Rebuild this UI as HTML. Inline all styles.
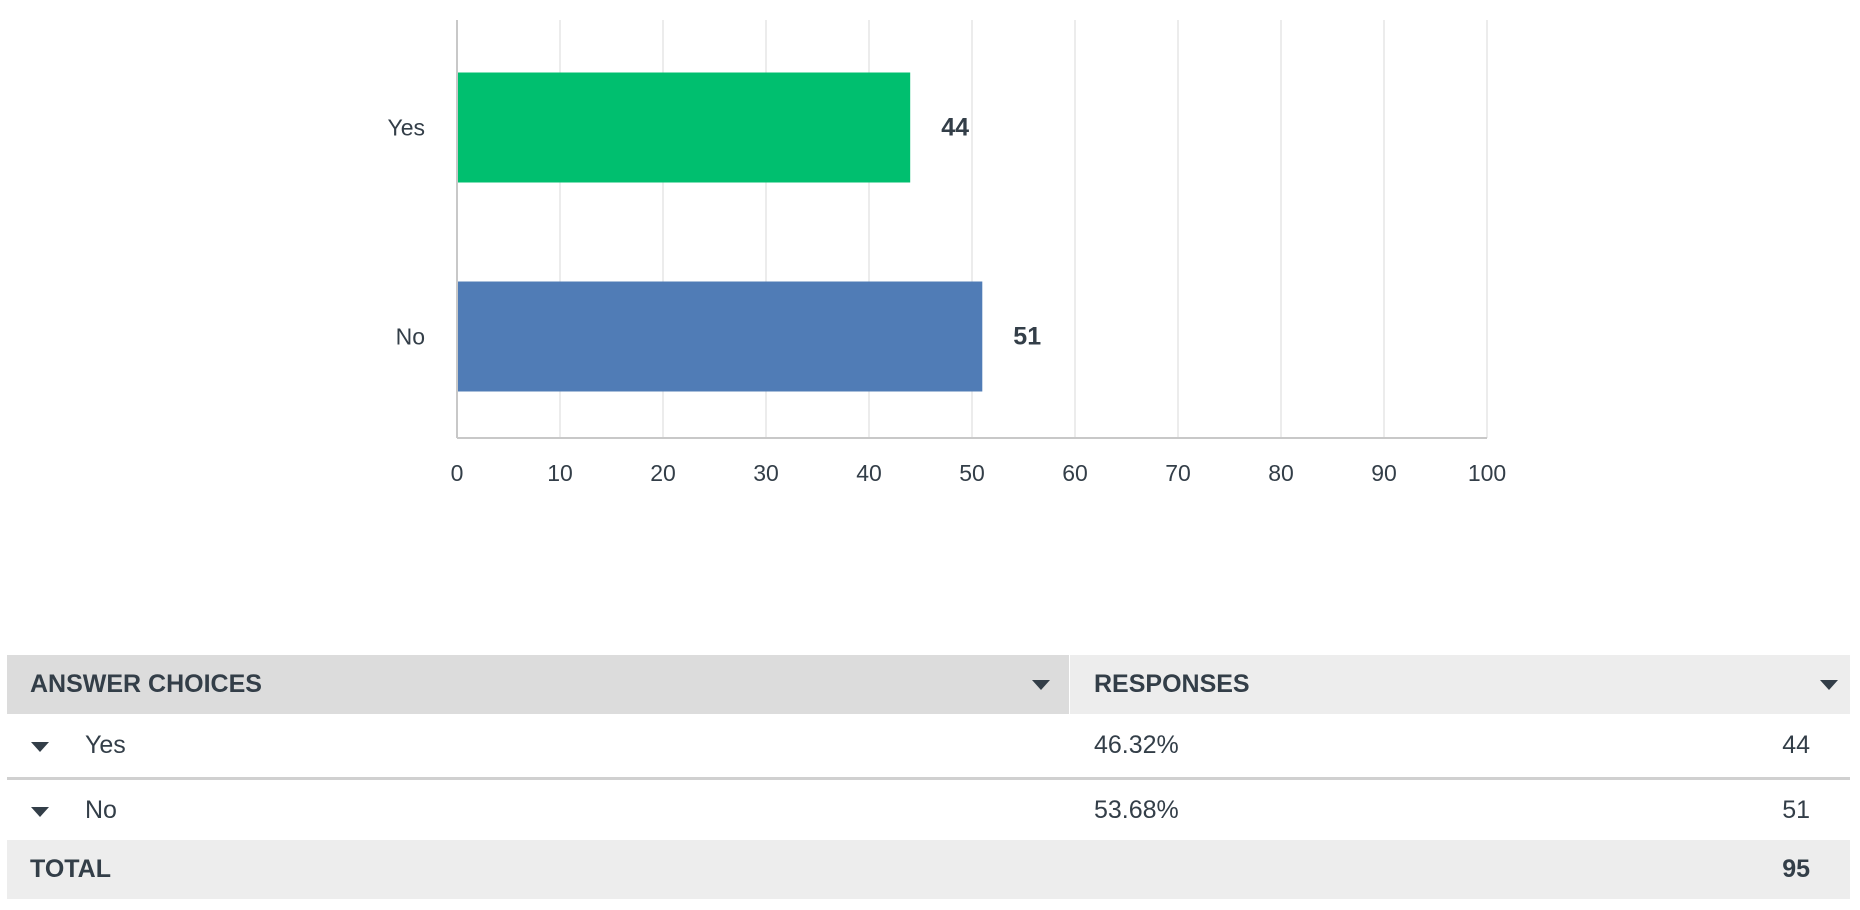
<!DOCTYPE html>
<html><head><meta charset="utf-8"><style>
body{margin:0;width:1860px;height:910px;background:#fff;font-family:"Liberation Sans",sans-serif;color:#333e48;position:relative;overflow:hidden}
.tbl{position:absolute;left:7px;width:1843px}
.cell{position:absolute;display:flex;align-items:center;box-sizing:border-box}
.tri{width:0;height:0;border-left:9px solid transparent;border-right:9px solid transparent;border-top:10px solid #333e48;position:absolute}
</style></head><body>
<svg id="chart" width="1860" height="520" style="position:absolute;left:0;top:0"></svg>

<div>
  <div class="cell" style="left:7px;top:655px;width:1062px;height:59px;background:#dcdcdc;font-weight:bold;font-size:25px;padding-left:23px">ANSWER CHOICES<span class="tri" style="left:1025px;top:25px"></span></div>
  <div class="cell" style="left:1070px;top:655px;width:780px;height:59px;background:#ededed;font-weight:bold;font-size:25px;padding-left:24px">RESPONSES<span class="tri" style="left:750px;top:25px"></span></div>

  <div class="cell" style="left:7px;top:714px;width:1062px;height:63px;font-size:25px;padding-left:78px"><span class="tri" style="left:24px;top:28px"></span>Yes</div>
  <div class="cell" style="left:1070px;top:714px;width:500px;height:63px;font-size:25px;padding-left:24px">46.32%</div>
  <div class="cell" style="left:1500px;top:714px;width:310px;height:63px;font-size:25px;justify-content:flex-end">44</div>
  <div style="position:absolute;left:7px;top:777px;width:1843px;height:3px;background:#d0d0d0"></div>

  <div class="cell" style="left:7px;top:780px;width:1062px;height:60px;font-size:25px;padding-left:78px"><span class="tri" style="left:24px;top:27px"></span>No</div>
  <div class="cell" style="left:1070px;top:780px;width:500px;height:60px;font-size:25px;padding-left:24px">53.68%</div>
  <div class="cell" style="left:1500px;top:780px;width:310px;height:60px;font-size:25px;justify-content:flex-end">51</div>

  <div class="cell" style="left:7px;top:840px;width:1843px;height:59px;background:#ededed;font-weight:bold;font-size:25px;padding-left:23px">TOTAL</div>
  <div class="cell" style="left:1500px;top:840px;width:310px;height:59px;font-weight:bold;font-size:25px;justify-content:flex-end">95</div>
</div>

<script>
const categories = ["Yes", "No"];
const values = [44, 51];
const colors = ["#00bf6f", "#507cb6"];
const ticks = [0,10,20,30,40,50,60,70,80,90,100];

const NS = "http://www.w3.org/2000/svg";
const svg = document.getElementById("chart");
const x0 = 457, x1 = 1487, xmax = 100;
const yTop = 20, yBase = 438;
const xs = v => x0 + (v / xmax) * (x1 - x0);
const band = (yBase - yTop) / categories.length;
const barH = 110;
const yc = i => yTop + band * i + band / 2 + 3;

function mk(tag, attrs){const e=document.createElementNS(NS,tag);for(const k in attrs)e.setAttribute(k,attrs[k]);svg.appendChild(e);return e;}

ticks.forEach(t=>{
  if(t>0){
    const g=mk("line",{x1:xs(t),x2:xs(t),y1:yTop,y2:yBase,stroke:"#e6e6e6","stroke-width":1.5});
    
    
  }
  const l=mk("text",{x:xs(t),y:481,"text-anchor":"middle","font-size":23,fill:"#333e48","font-family":"Liberation Sans, sans-serif"});
  l.textContent=t;
  
  
});
const ya=mk("line",{x1:x0,x2:x0,y1:yTop,y2:yBase,stroke:"#c8c8c8","stroke-width":2});


const xa=mk("line",{x1:x0,x2:x1,y1:yBase,y2:yBase,stroke:"#c8c8c8","stroke-width":2});



categories.forEach((c,i)=>{
  const b=mk("rect",{x:x0+1,y:yc(i)-barH/2,width:xs(values[i])-x0-1,height:barH,fill:colors[i]});
  
  
  const cl=mk("text",{x:425,y:yc(i)+8,"text-anchor":"end","font-size":23,fill:"#333e48","font-family":"Liberation Sans, sans-serif"});
  cl.textContent=c;
  
  
  const vl=mk("text",{x:xs(values[i])+31,y:yc(i)+8,"font-size":25,"font-weight":"bold",fill:"#333e48","font-family":"Liberation Sans, sans-serif"});
  vl.textContent=values[i];
  
  
});
</script>
</body></html>
